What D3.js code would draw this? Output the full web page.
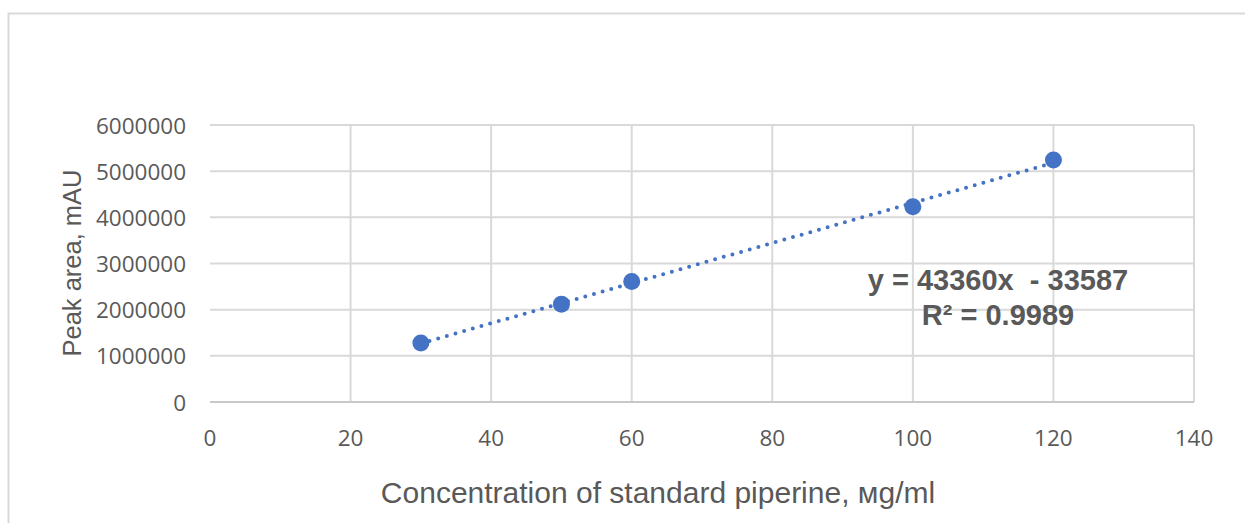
<!DOCTYPE html>
<html>
<head>
<meta charset="utf-8">
<script src="https://cdn.jsdelivr.net/npm/d3@7"></script>
<style>
  body { margin: 0; background: #fff; }
  svg { display: block; }
</style>
</head>
<body>
<div id="chart"></div>
<script>
// data
const concentration = [30, 50, 60, 100, 120];
const peakArea = [1280000, 2120000, 2610000, 4230000, 5240000];
const xTicks = [0, 20, 40, 60, 80, 100, 120, 140];
const yTicks = [0, 1000000, 2000000, 3000000, 4000000, 5000000, 6000000];
const equationLines = ["y = 43360x  - 33587", "R² = 0.9989"];

const width = 1245;
const height = 523;
const margin = { top: 125, right: 51, bottom: 121, left: 210 };

const blue = "#4472C4";
const gridColor = "#d9d9d9";
const textColor = "#595959";

const svg = d3.select("#chart")
    .append("svg")
    .attr("width", width)
    .attr("height", height);

// outer chart border
svg.append("rect")
    .attr("x", 8.5)
    .attr("y", 13.5)
    .attr("width", 1245)
    .attr("height", 600)
    .attr("fill", "none")
    .attr("stroke", gridColor)
    .attr("stroke-width", 2);

const x = d3.scaleLinear()
    .domain([0, 140])
    .range([margin.left, width - margin.right]);

const y = d3.scaleLinear()
    .domain([0, 6000000])
    .range([height - margin.bottom, margin.top]);

// vertical grid lines
svg.append("g")
  .selectAll("line")
  .data(xTicks.slice(1))
  .join("line")
    .attr("x1", d => x(d))
    .attr("x2", d => x(d))
    .attr("y1", y(0))
    .attr("y2", y(6000000))
    .attr("stroke", gridColor)
    .attr("stroke-width", 2);

// horizontal grid lines
svg.append("g")
  .selectAll("line")
  .data(yTicks.slice(1))
  .join("line")
    .attr("x1", x(0))
    .attr("x2", x(140))
    .attr("y1", d => y(d))
    .attr("y2", d => y(d))
    .attr("stroke", gridColor)
    .attr("stroke-width", 2);

// x axis line
svg.append("line")
    .attr("x1", x(0))
    .attr("x2", x(140))
    .attr("y1", y(0))
    .attr("y2", y(0))
    .attr("stroke", "#c8c8c8")
    .attr("stroke-width", 2);

// tick labels
svg.append("g")
  .selectAll("text")
  .data(xTicks)
  .join("text")
    .attr("x", d => x(d))
    .attr("y", y(0) + 35)
    .attr("text-anchor", "middle")
    .attr("dominant-baseline", "central")
    .attr("fill", textColor)
    .style("font-family", "'Open Sans', sans-serif")
    .style("font-size", "22.5px")
    .text(d => d);

svg.append("g")
  .selectAll("text")
  .data(yTicks)
  .join("text")
    .attr("x", x(0) - 24)
    .attr("y", d => y(d))
    .attr("text-anchor", "end")
    .attr("dominant-baseline", "central")
    .attr("fill", textColor)
    .style("font-family", "'Open Sans', sans-serif")
    .style("font-size", "22.5px")
    .text(d => d);

// axis titles
svg.append("text")
    .attr("transform", "translate(72, 263) rotate(-90)")
    .attr("text-anchor", "middle")
    .attr("dominant-baseline", "central")
    .attr("fill", textColor)
    .style("font-family", "'Liberation Sans', Arial, sans-serif")
    .style("font-size", "25.5px")
    .text("Peak area, mAU");

svg.append("text")
    .attr("x", 658)
    .attr("y", 492)
    .attr("text-anchor", "middle")
    .attr("dominant-baseline", "central")
    .attr("fill", textColor)
    .style("font-family", "'Liberation Sans', Arial, sans-serif")
    .style("font-size", "30px")
    .text("Concentration of standard piperine, мg/ml");

// linear trendline from least squares
const points = concentration.map((c, i) => ({ c: c, a: peakArea[i] }));
const meanC = d3.mean(concentration);
const meanA = d3.mean(peakArea);
const slope = d3.sum(points, p => (p.c - meanC) * (p.a - meanA)) /
    d3.sum(points, p => (p.c - meanC) ** 2);
const intercept = meanA - slope * meanC;
const trendX = d3.extent(concentration);

svg.append("line")
    .attr("x1", x(trendX[0]))
    .attr("y1", y(slope * trendX[0] + intercept))
    .attr("x2", x(trendX[1]))
    .attr("y2", y(slope * trendX[1] + intercept))
    .attr("stroke", blue)
    .attr("stroke-width", 4)
    .attr("stroke-linecap", "round")
    .attr("stroke-dasharray", "0 9");

// markers
svg.append("g")
  .selectAll("circle")
  .data(points)
  .join("circle")
    .attr("cx", d => x(d.c))
    .attr("cy", d => y(d.a))
    .attr("r", 8.5)
    .attr("fill", blue);

// trendline equation
svg.append("g")
  .selectAll("text")
  .data(equationLines)
  .join("text")
    .attr("x", 998)
    .attr("y", (d, i) => 280 + i * 35)
    .attr("text-anchor", "middle")
    .attr("dominant-baseline", "central")
    .attr("fill", textColor)
    .style("font-family", "'Liberation Sans', Arial, sans-serif")
    .style("font-size", "29px")
    .style("font-weight", "bold")
    .style("white-space", "pre")
    .text(d => d);
</script>
</body>
</html>
